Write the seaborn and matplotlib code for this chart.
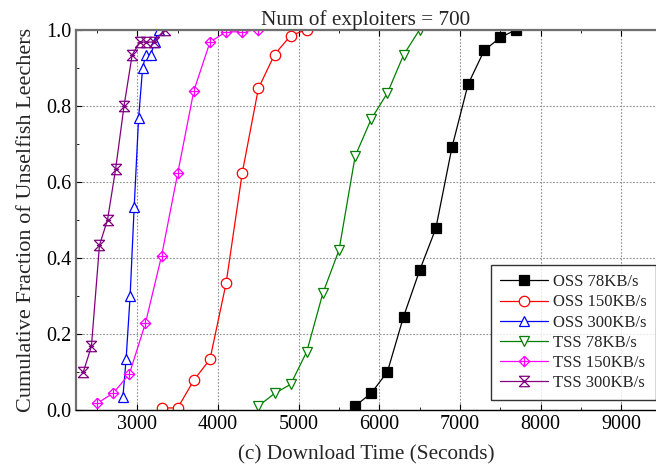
import numpy as np
import pandas as pd
import matplotlib
matplotlib.use("Agg")
import matplotlib.pyplot as plt
import seaborn as sns
from matplotlib.path import Path
from matplotlib.ticker import MultipleLocator, FormatStrFormatter

# ---- data ----
oss78_x = [5700, 5900, 6100, 6300, 6500, 6700, 6900, 7100, 7300, 7500, 7700]
oss78_y = [0.010, 0.044, 0.100, 0.245, 0.367, 0.477, 0.690, 0.856, 0.945, 0.979, 1.000]

oss150_x = [3300, 3500, 3700, 3900, 4100, 4300, 4500, 4700, 4900, 5100]
oss150_y = [0.005, 0.005, 0.078, 0.133, 0.333, 0.623, 0.845, 0.934, 0.984, 1.000]

oss300_x = [2820, 2860, 2910, 2960, 3015, 3065, 3105, 3165, 3215, 3265]
oss300_y = [0.033, 0.133, 0.300, 0.533, 0.767, 0.900, 0.933, 0.933, 0.967, 1.000]

tss78_x = [4500, 4700, 4900, 5100, 5300, 5500, 5700, 5900, 6100, 6300, 6500]
tss78_y = [0.010, 0.043, 0.067, 0.153, 0.307, 0.420, 0.667, 0.765, 0.833, 0.933, 1.000]

tss150_x = [2500, 2700, 2900, 3100, 3300, 3500, 3700, 3900, 4100, 4300, 4500]
tss150_y = [0.017, 0.044, 0.094, 0.228, 0.405, 0.622, 0.839, 0.967, 0.994, 0.994, 1.000]

tss300_x = [2330, 2430, 2530, 2630, 2730, 2835, 2935, 3030, 3110, 3200, 3340]
tss300_y = [0.100, 0.167, 0.433, 0.500, 0.633, 0.800, 0.933, 0.967, 0.967, 0.967, 1.000]

labels = ["OSS 78KB/s", "OSS 150KB/s", "OSS 300KB/s",
          "TSS 78KB/s", "TSS 150KB/s", "TSS 300KB/s"]
colors = ["black", "red", "blue", "green", "magenta", "purple"]

series = [(oss78_x, oss78_y), (oss150_x, oss150_y), (oss300_x, oss300_y),
          (tss78_x, tss78_y), (tss150_x, tss150_y), (tss300_x, tss300_y)]

frames = []
for lab, (xs, ys) in zip(labels, series):
    frames.append(pd.DataFrame({"time": xs, "frac": ys, "series": lab}))
df = pd.concat(frames, ignore_index=True)

# custom markers: diamond with a plus, and a crossed box
diamond_plus = Path(
    [(0, 1), (1, 0), (0, -1), (-1, 0), (0, 1),
     (-1, 0), (1, 0), (0, -1), (0, 1)],
    [Path.MOVETO, Path.LINETO, Path.LINETO, Path.LINETO, Path.LINETO,
     Path.MOVETO, Path.LINETO, Path.MOVETO, Path.LINETO])
cross_box = Path(
    [(-1, -1), (1, 1), (-1, 1), (1, -1),
     (-1, 1), (1, 1), (-1, -1), (1, -1),
     (-0.5, 0), (0.5, 0)],
    [Path.MOVETO, Path.LINETO, Path.MOVETO, Path.LINETO,
     Path.MOVETO, Path.LINETO, Path.MOVETO, Path.LINETO,
     Path.MOVETO, Path.LINETO])
markers = ["s", "o", "^", "v", diamond_plus, cross_box]

sns.set_style("ticks")
plt.rcParams["font.family"] = ["Liberation Serif", "DejaVu Serif"]

fig = plt.figure(figsize=(6.56, 4.76), dpi=100)
ax = fig.add_axes([0.116, 0.139, 0.884, 0.799])

for lab, col, mk in zip(labels, colors, markers):
    sub = df[df["series"] == lab]
    filled = lab == "OSS 78KB/s"
    sns.lineplot(data=sub, x="time", y="frac", ax=ax, color=col, label=lab,
                 marker=mk, markersize=7.5 if mk != "s" else 6.5,
                 markerfacecolor=col if filled else "white",
                 markeredgecolor=col, markeredgewidth=0.9,
                 linewidth=0.9, sort=False, estimator=None)

ax.set_xlim(2240, 9430)
ax.set_ylim(0, 1.0)
ax.xaxis.set_major_locator(MultipleLocator(1000))
ax.xaxis.set_minor_locator(MultipleLocator(500))
ax.yaxis.set_major_locator(MultipleLocator(0.2))
ax.yaxis.set_minor_locator(MultipleLocator(0.1))
ax.yaxis.set_major_formatter(FormatStrFormatter("%.1f"))
ax.set_xticks([3000, 4000, 5000, 6000, 7000, 8000, 9000])

ax.grid(True, which="major", color="#909090", linestyle=(0, (1.5, 1.5)), linewidth=0.8)
ax.tick_params(which="both", direction="in", top=True, right=False,
               labelsize=14.5, colors="black")
ax.tick_params(which="major", length=4)
ax.tick_params(which="minor", length=2.5)
for side in ["left", "top"]:
    ax.spines[side].set_color("#707070")
    ax.spines[side].set_linewidth(1.6)
ax.spines["bottom"].set_color("black")
ax.spines["bottom"].set_linewidth(1.0)
ax.spines["right"].set_visible(False)

ax.set_xlabel("(c) Download Time (Seconds)", fontsize=15.3, labelpad=8)
ax.set_ylabel("Cumulative Fraction of Unselfish Leechers", fontsize=16, labelpad=7)
ax.set_title("Num of exploiters = 700", fontsize=15.3, pad=1)

leg = ax.legend(loc="lower right", bbox_to_anchor=(1.0, 0.025), borderaxespad=0,
                fontsize=12, frameon=True, fancybox=False, shadow=False,
                handlelength=2.9, borderpad=0.55, labelspacing=0.25,
                handletextpad=0.3)
leg.get_frame().set_edgecolor("black")
leg.get_frame().set_linewidth(1.0)

fig.savefig("out.png", dpi=100)
